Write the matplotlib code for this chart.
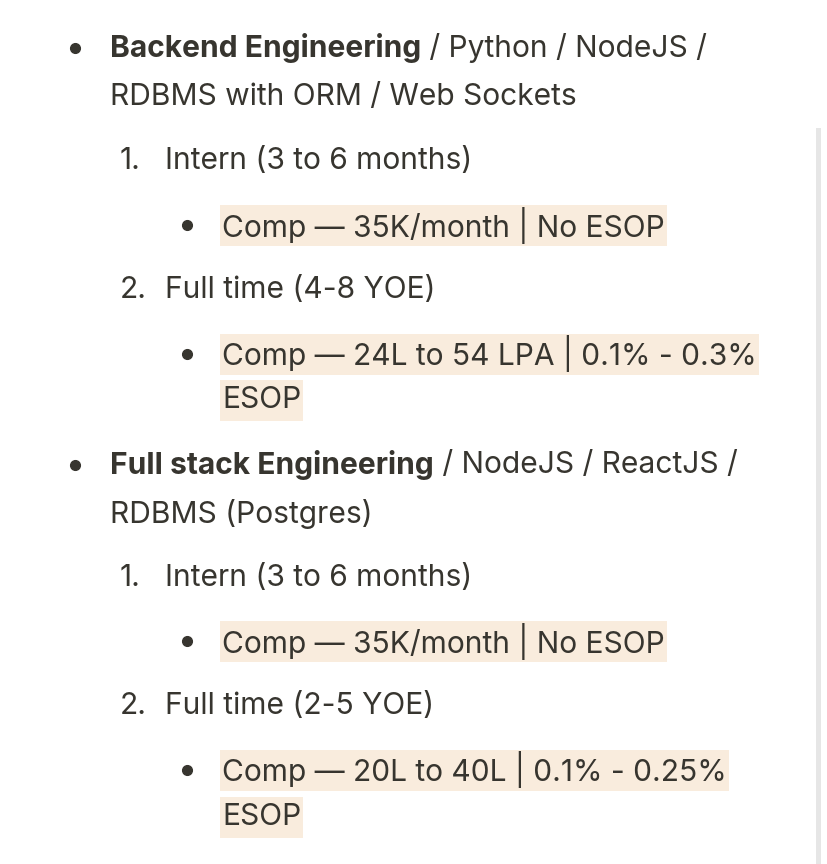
import matplotlib
matplotlib.use("Agg")
import matplotlib.pyplot as plt
from matplotlib.patches import Rectangle

FONT = "Inter"
TXT = "#37352f"
HL = "#f9ecdd"

# lines: (y_center, x_start, marker, bold_part, rest, highlight)
lines = [
    (48, 110, "dot0", "Backend Engineering", " / Python / NodeJS /", False),
    (97, 110, None, "", "RDBMS with ORM / Web Sockets", False),
    (161, 165, "1.", "", "Intern (3 to 6 months)", False),
    (225, 222, "dot1", "", "Comp — 35K/month | No ESOP", True),
    (290, 165, "2.", "", "Full time (4-8 YOE)", False),
    (354, 222, "dot1", "", "Comp — 24L to 54 LPA | 0.1% - 0.3%", True),
    (400, 222, None, "", "ESOP", True),
    (465, 110, "dot0", "Full stack Engineering", " / NodeJS / ReactJS /", False),
    (514, 110, None, "", "RDBMS (Postgres)", False),
    (578, 165, "1.", "", "Intern (3 to 6 months)", False),
    (641, 222, "dot1", "", "Comp — 35K/month | No ESOP", True),
    (706, 165, "2.", "", "Full time (2-5 YOE)", False),
    (770, 222, "dot1", "", "Comp — 20L to 40L | 0.1% - 0.25%", True),
    (817, 222, None, "", "ESOP", True),
]

fig = plt.figure(figsize=(8.28, 8.64), dpi=100)
ax = fig.add_axes([0, 0, 1, 1])
ax.set_xlim(0, 828); ax.set_ylim(864, 0); ax.axis("off")
fig.canvas.draw()
r = fig.canvas.get_renderer()

def width(s, fs, weight="normal"):
    t = ax.text(0, 0, s, fontsize=fs, family=FONT, fontweight=weight)
    w = t.get_window_extent(r).width
    t.remove()
    return w

fs = 20 * 444 / width("Comp — 35K/month | No ESOP", 20)

# scrollbar
ax.add_patch(Rectangle((816, 128), 5, 736, color="#e6e6e6", lw=0))

for y, x, mk, bold, rest, hl in lines:
    if hl:
        w = width(rest, fs)
        ax.add_patch(Rectangle((x - 2, y - 20), w + 4, 41, color=HL, lw=0, zorder=0))
    if mk == "dot0":
        ax.plot(75, y, "o", color=TXT, ms=7)
    elif mk == "dot1":
        ax.plot(187, y, "o", color=TXT, ms=7)
    elif mk:
        ax.text(x - 45, y, mk, fontsize=fs, family=FONT, color=TXT, va="center")
    cx = x
    if bold:
        ax.text(cx, y, bold, fontsize=fs, family=FONT, fontweight="bold", color=TXT, va="center")
        cx += width(bold, fs, "bold")
    ax.text(cx, y, rest, fontsize=fs, family=FONT, color=TXT, va="center")

fig.savefig("out.png", dpi=100)
